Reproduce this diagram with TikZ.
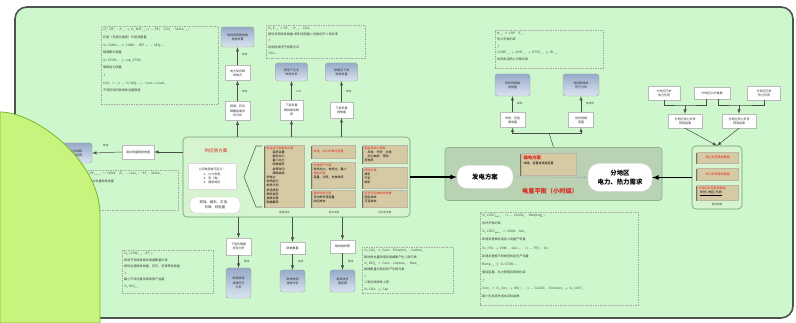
\RequirePackage{fix-cm}
\documentclass[tikz,border=0pt]{standalone}
\usepackage{fontspec}
\setmainfont{Noto Sans CJK SC}
\usetikzlibrary{shadows}

\definecolor{paneGreen}{RGB}{206,247,206}
\definecolor{paneEdge}{RGB}{75,85,75}
\definecolor{blobGreen}{RGB}{200,243,125}
\definecolor{blobEdge}{RGB}{120,185,40}
\definecolor{blockGreen}{RGB}{214,244,208}
\definecolor{blockEdge}{RGB}{105,160,105}
\definecolor{tanFill}{RGB}{214,202,165}
\definecolor{tanShade}{RGB}{120,112,80}
\definecolor{blueTop}{RGB}{150,170,200}
\definecolor{blueBot}{RGB}{218,228,240}
\definecolor{grayBox}{RGB}{185,210,180}
\definecolor{redText}{RGB}{220,40,30}

\newcommand{\tinycn}{\fontsize{3}{4.2}\selectfont}
\newcommand{\notecn}{\fontsize{3.1}{7.6}\selectfont}
\newcommand{\midcn}{\fontsize{4.6}{5.6}\selectfont}
\newcommand{\bigcn}{\fontsize{6.4}{8.6}\selectfont}
\newcommand{\Sm}{\Sigma}

\begin{document}
\begin{tikzpicture}[x=1pt,y=-1pt,>=latex,
    whitebox/.style={draw=gray!55,fill=white,inner sep=0.8pt,align=center,font=\tinycn,text=black!80},
    bluebox/.style={draw=gray!75,rounded corners=2.5pt,top color=blueTop,bottom color=blueBot,inner sep=0.8pt,align=center,font=\tinycn,text=black!80},
    tanbox/.style={fill=tanFill,draw=tanShade!50,inner sep=0,drop shadow={fill=tanShade,opacity=1,shadow xshift=-1.3pt,shadow yshift=-1.5pt}},
    tantext/.style={inner sep=0,align=left,anchor=north west,font=\tinycn},
    notebox/.style={draw=gray!70,dash pattern=on 1.5pt off 1pt,line width=0.35pt,inner sep=0,anchor=north west},
    notetext/.style={inner sep=0,align=left,anchor=north west,font=\notecn,text=black!75},
    tag/.style={inner sep=0,anchor=west,font=\fontsize{2.6}{3}\selectfont,text=black!70},
    link/.style={draw=black!70,line width=0.5pt},
    heavy/.style={draw=black,line width=1.2pt}]

\fill [white] (0,0) rectangle (796,323);
\useasboundingbox (0,0) rectangle (796,323);
\draw [fill=paneGreen,draw=paneEdge,line width=1.6pt,rounded corners=12pt] (15,7) rectangle (793,318);

% supply side block

\node (supply) at (296.5,177) [draw=blockEdge,fill=blockGreen,line width=0.6pt,rounded corners=4pt,minimum width=227,minimum height=80] {};
\node (supTitle) at (216,151) [text=redText,font=\midcn] {供应侧方案};
\node (supDef) at (212,176) [whitebox,draw=gray!30,minimum width=48,minimum height=26] {上网电源单元定义：\\1、火力发电\\2、热（电）\\3、需求响应};
\node (supFuel) at (215,205) [whitebox,draw=gray!40,rounded corners=5pt,minimum width=50,minimum height=16,font=\fontsize{3.4}{4.6}\selectfont] {燃煤、碱石、灰渣、\\石膏、耗电量};
\draw [blockEdge!70!black,line width=0.6pt] (262,146) -- (256,146) -- (244,177) -- (256,207) -- (262,207);

\node (tanA) at (284.5,176) [tanbox,minimum width=39,minimum height=62] {};
\node (tanB1) at (333.5,151.5) [tanbox,minimum width=43,minimum height=13] {};
\node (tanB2) at (333.5,175) [tanbox,minimum width=43,minimum height=26] {};
\node (tanB3) at (333.5,198.5) [tanbox,minimum width=43,minimum height=17] {};
\node (tanC1) at (385,154) [tanbox,minimum width=44,minimum height=18] {};
\node (tanC2) at (385,177.5) [tanbox,minimum width=44,minimum height=21] {};
\node (tanC3) at (385,198.5) [tanbox,minimum width=44,minimum height=17] {};

\node (txtA) at ([shift={(1.5,1.5)}]tanA.north west) [tantext] {\textcolor{redText}{机组运行参数及约束}\\\quad\quad 装机容量\\\quad\quad 额定出力\\\quad\quad 最小出力\\\quad\quad 爬坡速率\\\quad\quad 启停时间\\\quad\quad 煤耗曲线\\ 热电比\\ 供热能力\\ 检修计划\\ 机组类型\\ 燃料类型\\ 排放系数\\ 碳捕集率};
\node (txtB1) at ([shift={(1.5,4.5)}]tanB1.north west) [tantext] {\textcolor{redText}{机组、出力约束与容量}};
\node (txtB2) at ([shift={(1.5,1.5)}]tanB2.north west) [tantext] {\textcolor{redText}{热电联产约束}\\供热出力、电热比、最小\\\textcolor{redText}{储能约束}\\容量、功率、充放效率};
\node (txtB3) at ([shift={(1.5,1.5)}]tanB3.north west) [tantext] {\textcolor{redText}{需求响应约束}\\可中断负荷容量\\响应成本};
\node (txtC1) at ([shift={(1.5,1.5)}]tanC1.north west) [tantext] {\textcolor{redText}{新能源出力参数}\\\quad 风电\quad 光伏\quad 水电\\\quad 出力曲线\quad 预测\\ 弃电率};
\node (txtC2) at ([shift={(1.5,1.5)}]tanC2.north west) [tantext] {\textcolor{redText}{燃料价格}\\煤价\\气价\\碳价};
\node (txtC3) at ([shift={(1.5,1.5)}]tanC3.north west) [tantext] {\textcolor{redText}{投资与运维成本参数}\\ 固定成本\\ 可变成本};

\node (labA) at (284.5,213) [tag,anchor=center] {数据信息};
\node (labB) at (334,213) [tag,anchor=center] {技术参数};
\node (labC) at (385,213) [tag,anchor=center] {经济性参数};

% outflow to the left

\node (outBlue) at (76,153) [bluebox,minimum width=32,minimum height=20] {外送电碳\\排放核算};
\node (outCarbon) at (138,152) [whitebox,minimum width=32,minimum height=14] {调出电量碳排放量};
\draw [link,->] (supply.west |- outCarbon) -- (outCarbon.east);
\draw [link,->] (outCarbon.west) -- (outBlue.east);
\node (tagL) at (103,146) [tag] {碳排};

\node (noteL) at (87,170) [notebox,minimum width=91,minimum height=40] {};
\node (noteLtxt) at ([shift={(2,2)}]noteL.north west) [notetext] {$\Sm\mathrm{E}_{out,t}=\mathrm{CONV}\cdot(\mathrm{E}_{t}-\mathrm{Loss}_{t})\cdot\mathrm{EF}_{t}\cdot\mathrm{Share}_{t}$\\调出电量碳排放量};

% upward chains

\node (upA1) at (237.5,111) [whitebox,minimum width=25,minimum height=19] {燃煤、石灰\\碳酸盐需求\\及分布};
\node (upA2) at (237.5,73) [whitebox,minimum width=25,minimum height=15] {电力供应碳\\排放方};
\node (upA3) at (237.5,37) [bluebox,minimum width=33,minimum height=20] {电网调度碳排放\\排放核算};
\draw [link,->] (upA1 |- supply.north) -- (upA1.south);
\draw [link,->] (upA1.north) -- (upA2.south);
\draw [link,->] (upA2.north) -- (upA3.south);
\node (tagA1) at (242,92) [tag] {碳排};
\node (tagA2) at (242,55) [tag] {碳排};

\node (upB1) at (291.5,110) [whitebox,minimum width=23,minimum height=20] {下层负载\\碳排放系数\\表};
\node (upB2) at (291.5,72) [bluebox,minimum width=32,minimum height=18] {碳生产企业\\碳排分析};
\draw [link,->] (upB1 |- supply.north) -- (upB1.south);
\draw [link,->] (upB1.north) -- (upB2.south);
\node (tagB1) at (296,92) [tag] {CO2};

\node (upC1) at (341.5,110) [whitebox,minimum width=23,minimum height=16] {下层负载\\排放量};
\node (upC2) at (341.5,72) [bluebox,minimum width=32,minimum height=18] {碳储运下游\\碳排放量};
\draw [link,->] (upC1 |- supply.north) -- (upC1.south);
\draw [link,->] (upC1.north) -- (upC2.south);
\node (tagC1) at (346,92) [tag] {碳排};

\node (noteTL) at (101,26) [notebox,minimum width=117,minimum height=78] {};
\node (noteTLtxt) at ([shift={(2,2)}]noteTL.north west) [notetext] {$\Sm_{t}^{T}(\mathrm{EF}_{i}\cdot P_{i,t}+\Sm_{j}\mathrm{BUY}_{j,t}(1-\mathrm{FR})\cdot\mathrm{CO2}_{j}\cdot\mathrm{Share}_{i,t})$\\约束（年度总量限）外部调整量\\$\Sm_{t}\mathrm{CONV}_{i,t}=\mathrm{CONV}_{i}\cdot\mathrm{RET}_{i,t}-\mathrm{SEQ}_{i,t}$\\碳捕集约束量\\$\Sm_{t}\mathrm{STOR}_{i,t}\le\mathrm{cap\_STOR}_{i}$\\储碳能力限量\\$f$\\$\mathrm{CO2}_{i}=(1-\Sm_t\mathrm{SEQ}_{i,t})\cdot\mathrm{Conv}_{i}/\mathrm{Load}_{i}$\\不同阶段的碳排放总量限值};

\node (noteTM) at (266,25) [notebox,minimum width=99,minimum height=33] {};
\node (noteTMtxt) at ([shift={(2,2)}]noteTM.north west) [notetext,font=\fontsize{3.1}{6.2}\selectfont] {$\Sm_{t}\mathrm{E}_{i,t}=\mathrm{EF}_{i}\cdot P_{i,t}\cdot\mathrm{CO2}_{i}$\\燃料消耗碳排放量=燃料消耗量×排放因子×氧化率\\$f$\\电网排放因子核算方法\\$\mathrm{CO2}_{i,t}$};

% downward chains

\node (dnA1) at (238.5,246.5) [whitebox,minimum width=25,minimum height=17] {下层负载需\\求及分析};
\node (dnA2) at (238.5,283) [bluebox,minimum width=25,minimum height=30] {碳排放源\\排放因子\\分析};
\draw [link,->] (dnA1 |- supply.south) -- (dnA1.north);
\draw [link,->] (dnA1.south) -- (dnA2.north);
\node (tagD1) at (244,262) [tag] {碳排};

\node (dnB1) at (292.5,248) [whitebox,minimum width=25,minimum height=12] {碳捕集量};
\node (dnB2) at (292.5,281) [bluebox,minimum width=25,minimum height=22] {碳排放源\\排放分析};
\draw [link,->] (dnB1 |- supply.south) -- (dnB1.north);
\draw [link,->] (dnB1.south) -- (dnB2.north);
\node (tagD2) at (298,262) [tag] {碳排};

\node (dnC1) at (342.5,246.5) [whitebox,minimum width=25,minimum height=13] {碳排放核算};
\node (dnC2) at (342.5,281) [bluebox,minimum width=25,minimum height=22] {碳排放总\\量核算};
\draw [link,->] (dnC1 |- supply.south) -- (dnC1.north);
\draw [link,->] (dnC1.south) -- (dnC2.north);
\node (tagD3) at (348,262) [tag] {碳排};

\node (noteBL) at (122,250) [notebox,minimum width=91,minimum height=43] {};
\node (noteBLtxt) at ([shift={(2,2)}]noteBL.north west) [notetext,font=\fontsize{3.1}{6.6}\selectfont] {$\Sm_{t}(\mathrm{COAL}_{i,t}\cdot\mathrm{EF}_{c})$\\煤炭开采碳排放及碳捕集量约束\\燃料运输碳排放量、石灰、石膏等排放量\\$f$\\最小开采总量及碳排放产品量\\$\Sm_t\mathrm{SEQ}_{i,t}$};

\node (noteBM) at (362,247) [notebox,minimum width=91,minimum height=46] {};
\node (noteBMtxt) at ([shift={(2,2)}]noteBM.north west) [notetext,font=\fontsize{3.1}{6.4}\selectfont] {$\Sm_{t}\mathrm{CO2}_{t}=\mathrm{Conv}\cdot\mathrm{Emission}_{t}\cdot\mathrm{Carbon}_{t}$\\碳排放总量限值及碳捕集产生二碳元素\\$\Sm_{t}\mathrm{SEQ}_{t}=\mathrm{Conv}\cdot\mathrm{Capture}_{t}\cdot\mathrm{Rate}_{t}$\\碳捕集量与碳封存产生碳元素\\$f$\\二氧化碳排放上限\\$\Sm_t\mathrm{CO2}_{t}\le\mathrm{Cap}$};

% balance block

\node (balance) at (553.5,174) [draw=blockEdge!80,fill=grayBox,line width=0.6pt,rounded corners=3pt,minimum width=217,minimum height=53] {};
\node (genPlan) at (485,177) [draw=gray!30,fill=white,rounded corners=10pt,minimum width=56,minimum height=23,font=\bigcn\bfseries] {发电方案};
\node (loadReq) at (620,177.5) [draw=gray!30,fill=white,rounded corners=11pt,minimum width=64,minimum height=28,align=center,font=\bigcn\bfseries] {分地区\\电力、热力需求};
\node (balTitle) at (550,191) [text=redText,font=\fontsize{6.2}{7}\selectfont\bfseries] {电量平衡（小时级）};
\node (transPlan) at (549,164) [tanbox,minimum width=55,minimum height=22] {};
\node (transTxt) at ([shift={(2,3)}]transPlan.north west) [tantext] {\textcolor{redText}{\fontsize{4.4}{5.4}\selectfont\bfseries 输电方案}\\线路、容量或通道容量};
\draw [link,draw=gray!60,->] (genPlan.east) -- (loadReq.west);
\draw [heavy,->] (supply.east) -- (genPlan.west);

% transmission outputs

\coordinate (split) at (549,133);
\node (upD1) at (512.5,120) [whitebox,minimum width=25,minimum height=15] {供热、应急\\储电量};
\node (upE1) at (581,120) [whitebox,minimum width=25,minimum height=15] {供热网络\\容量};
\node (upD2) at (512.5,85) [bluebox,minimum width=35,minimum height=22] {供热网络碳\\排放量};
\node (upE2) at (581,85) [bluebox,minimum width=36,minimum height=22] {电网碳排放\\因子分布};
\draw [link] (balance.north) -- (split);
\draw [link,->] (split) -| (upD1.south);
\draw [link,->] (split) -| (upE1.south);
\draw [link,->] (upD1.north) -- (upD2.south);
\draw [link,->] (upE1.north) -- (upE2.south);
\node (tagE1) at (517,104) [tag] {碳排};
\node (tagE2) at (586,104) [tag] {碳排放};

\node (noteTR) at (495,30) [notebox,minimum width=108,minimum height=38] {};
\node (noteTRtxt) at ([shift={(2,2)}]noteTR.north west) [notetext,font=\fontsize{3.1}{6.4}\selectfont] {$\mathrm{H}_{i,t}=\mathrm{COP}\cdot\mathrm{E}_{i,t}$\\热力平衡约束\\$f$\\$\Sm\mathrm{CHP}_{i,t}+\Sm\mathrm{HP}_{i,t}+\Sm\mathrm{TES}_{i,t}\ge\mathrm{HL}_{i,t}$\\供热机组热力平衡约束};

\node (noteBC) at (480,212) [notebox,minimum width=158,minimum height=93] {};
\node (noteBCtxt) at ([shift={(2,2)}]noteBC.north west) [notetext,font=\fontsize{3.1}{8.1}\selectfont] {$\Sm_{t}\mathrm{COST}_{\mathrm{fuel},t}\cdot(1-\mathrm{CLOSS}_{t}\cdot\mathrm{Ramping}_{t})$\\供热平衡约束\\$\Sm_{t}\mathrm{COST}_{\mathrm{gen},t}=\mathrm{CONV}\cdot\mathrm{Gen}_{t}$\\新建及替换机组投入电量产电量\\$\Sm_{t}(\mathrm{FIX}_{i}+\mathrm{VOM}_{i}\cdot\mathrm{Gen}_{i,t}\cdot(1-\mathrm{FR}))\cdot\mathrm{Dr}_{t}$\\新建及替换不同类型机组生产电量\\$\mathrm{Ramp}_{i,t}\le\Sm_{t}\mathrm{STOR}_{i,t}$\\储能容量、出力限值及爬坡约束\\$f$\\$\mathrm{Cost}_{t}=\Sm_{t}(\mathrm{Inv}_{i}+\mathrm{OM}_{i})\cdot(1-\mathrm{CLOSS})\cdot\mathrm{Emission}_{t}+\Sm_{t}\mathrm{COST}_{t}$\\最小化系统总成本目标函数};

% demand side

\node (storeDb) at (717,177.5) [draw=blockEdge,fill=blockGreen,line width=0.6pt,rounded corners=4pt,minimum width=50,minimum height=63] {};
\node (tanD1) at (717.5,157.5) [tanbox,minimum width=41,minimum height=11,text=redText,font=\tinycn] {电力负荷需求数据};
\node (tanD2) at (717.5,174) [tanbox,minimum width=41,minimum height=12,text=redText,font=\tinycn] {热力负荷需求数据};
\node (tanD3) at (717.5,192.5) [tanbox,minimum width=41,minimum height=15] {};
\node (txtD3) at ([shift={(1.5,1.5)}]tanD3.north west) [tantext] {\textcolor{redText}{分地区负荷需求数据}\\$\;$\underline{\,年份\,|\,地区\,|\,负荷\,}};
\node (labD) at (717,205) [tag,anchor=center] {需求数据};
\draw [heavy,->] (storeDb.west) -- (loadReq.east);

\node (srcA) at (664,93) [whitebox,minimum width=32,minimum height=14] {分地区历史\\电力负荷};
\node (srcB) at (712,93) [whitebox,minimum width=36,minimum height=12] {分地区GDP数据};
\node (srcC) at (764,93) [whitebox,minimum width=33,minimum height=14] {分地区历史\\热力负荷};
\node (prdA) at (685,121) [whitebox,minimum width=34,minimum height=14] {分地区电力负荷\\预测结果};
\node (prdB) at (739,121) [whitebox,minimum width=34,minimum height=14] {分地区热力负荷\\预测结果};
\coordinate (joinA) at (685,105);
\coordinate (joinB) at (739,105);
\draw [link] (srcA.south) |- (joinA) -| ([xshift=-6pt]srcB.south);
\draw [link] ([xshift=6pt]srcB.south) |- (joinB) -| (srcC.south);
\draw [link,->] (joinA) -- (prdA.north);
\draw [link,->] (joinB) -- (prdB.north);
\draw [link,->] (prdA.south) -- (storeDb.north);
\draw [link,->] (prdB.south) -- (storeDb.north);

% overlapping green blob

\draw [fill=blobGreen,draw=blobEdge,line width=0.8pt] (0,112) .. controls (35,112) and (100,160) .. (100,215) -- (100,323) -- (0,323) -- cycle;

\end{tikzpicture}
\end{document}
